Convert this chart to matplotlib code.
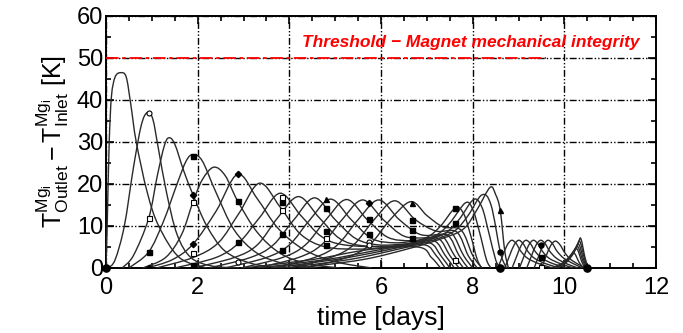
import numpy as np
import matplotlib
matplotlib.use('Agg')
import matplotlib.pyplot as plt
from matplotlib.path import Path
from matplotlib.patches import PathPatch
from matplotlib.ticker import MultipleLocator

# knots (time in days, dT in K)
pulse_t = [
    [0.0, 0.03, 0.07, 0.12, 0.2, 0.32, 0.44, 0.54, 0.66, 0.9, 1.15, 1.6, 2.2],
    [0.05, 0.2, 0.4, 0.6, 0.77, 0.9, 1.02, 1.15, 1.32, 1.55, 1.85, 2.3, 2.9],
    [0.35, 0.6, 0.93, 1.12, 1.27, 1.37, 1.5, 1.7, 1.9, 2.2, 2.6, 3.2, 3.9],
    [0.5, 0.93, 1.25, 1.55, 1.75, 1.9, 2.1, 2.4, 2.8, 3.3, 3.9, 4.6],
    [0.8, 1.3, 1.65, 1.9, 2.1, 2.35, 2.6, 2.87, 3.3, 3.8, 4.4, 5.1],
    [0.9, 1.45, 1.9, 2.4, 2.87, 3.3, 3.75, 4.3, 5.0, 5.8],
    [1.1, 1.9, 2.45, 2.9, 3.35, 3.8, 4.25, 4.8, 5.6, 6.8, 7.1, 7.3],
    [1.5, 2.4, 2.9, 3.35, 3.8, 4.25, 4.7, 5.2, 6.2, 6.95, 7.2, 7.4],
    [1.9, 2.8, 3.3, 3.75, 4.2, 4.65, 5.1, 5.6, 6.4, 7.05, 7.3, 7.5],
    [2.25, 3.15, 3.65, 4.1, 4.55, 5.0, 5.45, 5.95, 6.6, 7.15, 7.4, 7.6],
    [2.6, 3.5, 4.0, 4.45, 4.9, 5.35, 5.8, 6.3, 6.8, 7.25, 7.5, 7.7],
    [2.95, 3.85, 4.35, 4.8, 5.25, 5.7, 6.15, 6.65, 7.1, 7.35, 7.6, 7.8],
    [3.3, 4.2, 4.7, 5.15, 5.6, 6.05, 6.5, 7.0, 7.45, 7.7, 7.9],
    [3.65, 4.55, 5.05, 5.5, 5.95, 6.4, 6.85, 7.3, 7.55, 7.8, 8.0],
    [4.0, 4.9, 5.4, 5.85, 6.3, 6.75, 7.2, 7.65, 7.9, 8.1],
    [4.35, 5.25, 5.75, 6.2, 6.65, 7.0, 7.35, 7.75, 8.0, 8.2],
    [3.0, 4.5, 5.5, 6.5, 7.0, 7.3, 7.62, 7.8, 7.95, 8.1, 8.2],
    [3.3, 4.8, 5.8, 6.7, 7.2, 7.5, 7.84, 8.0, 8.15, 8.3, 8.4],
    [3.6, 5.0, 6.0, 6.9, 7.4, 7.7, 8.02, 8.2, 8.35, 8.5, 8.6],
    [3.9, 5.3, 6.3, 7.1, 7.6, 7.9, 8.2, 8.4, 8.6, 8.7, 8.75],
    [4.2, 5.6, 6.6, 7.3, 7.8, 8.1, 8.38, 8.5, 8.6, 8.7, 8.78],
    [8.55, 8.65, 8.75, 8.85, 8.95, 9.05, 9.2, 9.45, 9.75],
    [8.7, 8.8, 8.9, 9.0, 9.1, 9.2, 9.35, 9.6, 9.9],
    [8.86, 8.96, 9.06, 9.16, 9.26, 9.36, 9.51, 9.76, 10.06],
    [9.02, 9.12, 9.22, 9.32, 9.42, 9.52, 9.67, 9.92, 10.2],
    [9.18, 9.28, 9.38, 9.48, 9.58, 9.68, 9.83, 10.05, 10.3],
    [9.34, 9.44, 9.54, 9.64, 9.74, 9.84, 9.99, 10.2, 10.4],
    [9.5, 9.6, 9.7, 9.8, 9.9, 10.0, 10.12, 10.3, 10.45],
    [9.75, 9.95, 10.1, 10.2, 10.28, 10.38, 10.45],
    [9.8, 10.0, 10.15, 10.25, 10.32, 10.42, 10.48],
    [9.85, 10.05, 10.2, 10.3, 10.36, 10.45, 10.52],
    [9.7, 9.9, 10.05, 10.15, 10.22, 10.33, 10.42],
    [9.78, 9.98, 10.12, 10.22, 10.3, 10.4, 10.47],
    [9.82, 10.02, 10.17, 10.27, 10.34, 10.44, 10.5],
]
pulse_v = [
    [0.0, 12.0, 30.0, 41.0, 45.5, 46.5, 45.5, 39.0, 30.0, 18.0, 10.0, 2.5, 0.0],
    [0.0, 2.0, 10.0, 24.0, 34.0, 37.0, 35.5, 28.0, 18.0, 8.0, 2.5, 0.5, 0.0],
    [0.0, 3.0, 11.8, 22.0, 29.0, 31.0, 29.5, 23.0, 17.4, 10.0, 4.0, 1.0, 0.0],
    [0.0, 3.8, 11.0, 20.0, 25.5, 27.0, 25.5, 18.0, 9.0, 3.5, 1.0, 0.0],
    [0.0, 2.5, 8.0, 15.8, 21.0, 24.0, 22.0, 16.0, 8.5, 3.5, 1.0, 0.0],
    [0.0, 2.0, 5.7, 13.5, 22.3, 16.5, 9.5, 4.5, 1.5, 0.0],
    [0.0, 2.5, 6.0, 13.0, 20.2, 14.5, 8.0, 5.0, 4.5, 5.0, 2.5, 0.0],
    [0.0, 2.5, 6.0, 12.0, 17.8, 12.5, 7.5, 5.5, 5.0, 5.5, 3.0, 0.0],
    [0.0, 2.5, 5.5, 12.0, 17.0, 12.0, 7.0, 5.3, 5.3, 6.0, 3.0, 0.0],
    [0.0, 2.5, 5.5, 11.5, 16.7, 11.5, 7.0, 5.5, 5.8, 6.5, 3.0, 0.0],
    [0.0, 2.5, 5.5, 11.5, 16.4, 11.5, 7.0, 6.0, 6.5, 7.0, 3.0, 0.0],
    [0.0, 2.5, 5.5, 11.5, 16.3, 11.5, 7.3, 6.5, 7.2, 7.5, 3.0, 0.0],
    [0.0, 2.5, 5.5, 11.5, 16.2, 11.5, 7.6, 7.2, 7.8, 3.0, 0.0],
    [0.0, 2.5, 5.5, 11.5, 16.2, 11.5, 8.0, 8.0, 8.2, 3.0, 0.0],
    [0.0, 2.5, 5.5, 11.5, 16.0, 11.5, 8.8, 8.6, 3.0, 0.0],
    [0.0, 2.5, 5.5, 11.5, 15.8, 12.5, 9.8, 9.0, 3.0, 0.0],
    [0.0, 2.0, 4.0, 5.6, 7.3, 10.0, 14.3, 13.0, 8.0, 2.0, 0.0],
    [0.0, 2.0, 4.0, 5.9, 7.8, 10.7, 15.5, 14.0, 8.5, 2.0, 0.0],
    [0.0, 2.0, 4.0, 6.2, 8.3, 11.5, 16.3, 14.5, 8.5, 2.0, 0.0],
    [0.0, 2.0, 4.3, 6.5, 8.8, 12.5, 17.4, 15.0, 3.9, 0.8, 0.0],
    [0.0, 2.0, 4.6, 6.9, 9.3, 14.0, 19.2, 17.5, 13.8, 4.0, 0.0],
    [0.0, 2.8, 5.4, 6.6, 5.8, 4.0, 2.3, 1.0, 0.0],
    [0.0, 2.8, 5.4, 6.6, 5.8, 4.0, 2.3, 1.0, 0.0],
    [0.0, 2.8, 5.4, 6.6, 5.8, 4.0, 2.3, 1.0, 0.0],
    [0.0, 2.8, 5.4, 6.6, 5.8, 4.0, 2.3, 1.0, 0.0],
    [0.0, 2.8, 5.4, 6.6, 5.8, 4.0, 2.3, 1.0, 0.0],
    [0.0, 2.8, 5.4, 6.6, 5.8, 4.0, 2.3, 1.0, 0.0],
    [0.0, 2.8, 5.3, 6.4, 5.6, 3.8, 2.2, 0.9, 0.0],
    [0.0, 1.0, 2.5, 3.8, 4.5, 1.5, 0.0],
    [0.0, 1.2, 3.0, 4.8, 5.6, 2.0, 0.0],
    [0.0, 1.4, 3.5, 5.8, 7.0, 2.5, 0.0],
    [0.0, 0.8, 2.0, 3.0, 3.5, 1.2, 0.0],
    [0.0, 1.1, 2.8, 4.3, 5.0, 1.8, 0.0],
    [0.0, 1.3, 3.3, 5.3, 6.3, 2.2, 0.0],
]

# symbols sitting on the curves
mk_filled_sq_t = [0.93, 1.9, 1.9, 2.87, 2.87, 3.85, 3.85, 3.85, 4.8, 4.8, 4.8, 5.73, 5.73, 6.67, 6.67, 6.67, 7.62, 7.62, 9.5]
mk_filled_sq_v = [3.8, 26.7, 0.8, 16.0, 6.3, 15.8, 8.0, 4.2, 14.2, 8.8, 5.5, 11.6, 8.0, 11.4, 9.0, 7.1, 14.3, 10.7, 2.7]
mk_open_sq_t = [0.93, 1.9, 1.9, 3.85, 3.85, 4.8, 7.62, 9.5]
mk_open_sq_v = [11.8, 15.8, 3.5, 17.0, 13.8, 7.1, 1.9, 0.3]
mk_diamond_t = [0.93, 1.9, 1.9, 2.87, 5.73]
mk_diamond_v = [0.0, 17.4, 5.7, 22.3, 15.5]
mk_triangle_t = [4.8, 6.67, 8.6]
mk_triangle_v = [16.4, 15.5, 13.8]
mk_open_circ_t = [0.93, 2.87, 5.73, 5.73]
mk_open_circ_v = [37.0, 1.5, 6.3, 5.5]
mk_small_dot_t = [8.6, 9.5]
mk_small_dot_v = [3.9, 5.5]
mk_big_dot_t = [0.0, 8.6, 10.5]
mk_big_dot_v = [0.0, 0.0, 0.0]

threshold = 50
threshold_end = 9.6
threshold_label = 'Threshold \u2212 Magnet mechanical integrity'


def smooth_path(ts, vs):
    p = np.column_stack([ts, vs]).astype(float)
    n = len(p)
    verts = [p[0]]
    codes = [Path.MOVETO]
    for i in range(n - 1):
        a = p[max(i - 1, 0)]
        b = p[i]
        c = p[i + 1]
        d = p[min(i + 2, n - 1)]
        verts += [b + (c - a) / 6, c - (d - b) / 6, c]
        codes += [Path.CURVE4] * 3
    return Path(verts, codes)


plt.rcParams['font.family'] = ['Liberation Sans', 'DejaVu Sans']
plt.rcParams['mathtext.fontset'] = 'custom'
plt.rcParams['mathtext.rm'] = 'Liberation Sans'
plt.rcParams['mathtext.it'] = 'Liberation Sans:italic'

fig = plt.figure(figsize=(6.83, 3.33), dpi=100)
ax = fig.add_axes([0.1552, 0.1952, 0.8053, 0.7568])

for ts, vs in zip(pulse_t, pulse_v):
    ax.add_patch(PathPatch(smooth_path(ts, vs), fill=False, ec='#2a2a2a', lw=1.0, zorder=3))

ms = 3.6
ax.plot(mk_filled_sq_t, mk_filled_sq_v, 's', color='black', ms=ms, zorder=4)
ax.plot(mk_open_sq_t, mk_open_sq_v, 's', mfc='white', mec='black', mew=0.8, ms=ms, zorder=4)
ax.plot(mk_diamond_t, mk_diamond_v, 'D', color='black', ms=ms - 0.4, zorder=4)
ax.plot(mk_triangle_t, mk_triangle_v, '^', color='black', ms=ms, zorder=4)
ax.plot(mk_open_circ_t, mk_open_circ_v, 'o', mfc='white', mec='black', mew=0.8, ms=ms, zorder=4)
ax.plot(mk_small_dot_t, mk_small_dot_v, 'o', color='black', ms=ms, zorder=4)
ax.plot(mk_big_dot_t, mk_big_dot_v, 'o', color='black', ms=5.2, zorder=5, clip_on=False)

ax.plot([0, threshold_end], [threshold, threshold], color='red', lw=1.3,
        linestyle=(0, (7, 2, 2, 2)), zorder=3)
ax.text(11.65, 53.6, threshold_label, color='red', fontsize=12.5, fontweight='bold',
        fontstyle='italic', ha='right', va='center')

ax.set_xlim(0, 12)
ax.set_ylim(0, 60)
ax.xaxis.set_major_locator(MultipleLocator(2))
ax.xaxis.set_minor_locator(MultipleLocator(0.5))
ax.yaxis.set_major_locator(MultipleLocator(10))
ax.yaxis.set_minor_locator(MultipleLocator(5))
ax.tick_params(which='both', direction='in', top=True, right=True, width=1.2,
               labelsize=17)
ax.tick_params(axis='x', pad=6.5)
ax.tick_params(axis='y', pad=2)
ax.tick_params(which='major', length=6)
ax.tick_params(which='minor', length=3.5)
ax.grid(True, which='major', color='black', lw=1.0, linestyle=(0, (5, 1.5, 1, 1.5, 1, 1.5)))
ax.set_axisbelow(True)
for s in ax.spines.values():
    s.set_linewidth(1.4)

ax.set_xlabel('time [days]', fontsize=19, labelpad=5)
ax.set_ylabel(r'$\mathrm{T^{Mg_i}_{Outlet}-T^{Mg_i}_{Inlet}}$ [K]', fontsize=18, labelpad=4)

fig.savefig('out.png', dpi=100)
